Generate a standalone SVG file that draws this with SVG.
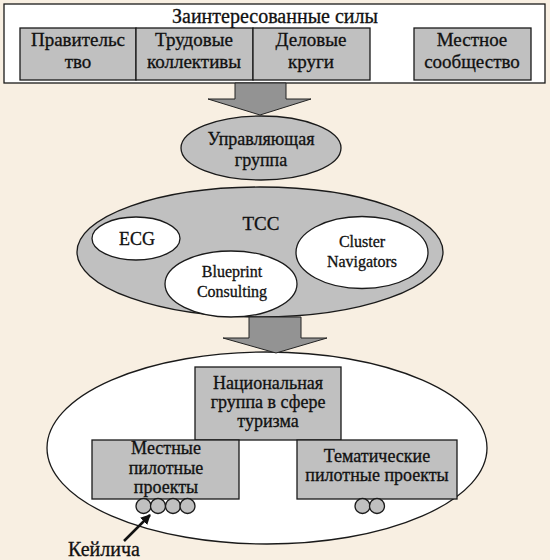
<svg xmlns="http://www.w3.org/2000/svg" width="550" height="560" viewBox="0 0 550 560">
<style>
text{font-family:"Liberation Serif","Times New Roman",serif;font-size:18px;fill:#111;text-anchor:middle;stroke:#111;stroke-width:0.3}
.t19{font-size:19px}
.en{font-size:16px}
.g{fill:#c0c0c0;stroke:#1a1a1a;stroke-width:1.3}
.w{fill:#fff;stroke:#1a1a1a;stroke-width:1.3}
.arr{fill:#939393;stroke:#222;stroke-width:1}
</style>
<defs>
<marker id="ah" viewBox="0 0 10 10" refX="9" refY="5" markerWidth="4" markerHeight="4" orient="auto"><path d="M0,0L10,5L0,10z" fill="#111"/></marker>
</defs>
<rect width="550" height="560" fill="#f8efe2"/>
<g id="stakeholders">
<rect x="4" y="4" width="541" height="79" class="w"/>
<text x="275" y="23" style="font-size:20px">Заинтересованные силы</text>
</g>
<g id="gov"><rect x="20" y="28" width="116" height="52" class="g"/><text class="t19" x="78" y="46">Правительс</text><text class="t19" x="78" y="68">тво</text></g>
<g id="labor"><rect x="136" y="28" width="117" height="52" class="g"/><text class="t19" x="194" y="46">Трудовые</text><text class="t19" x="194" y="68">коллективы</text></g>
<g id="business"><rect x="253" y="28" width="117" height="52" class="g"/><text class="t19" x="311" y="46">Деловые</text><text class="t19" x="311" y="68">круги</text></g>
<g id="community"><rect x="414" y="28" width="117" height="52" class="g"/><text class="t19" x="472" y="46">Местное</text><text class="t19" x="472" y="68">сообщество</text></g>
<g id="steering"><ellipse cx="261" cy="148" rx="80" ry="32" class="g"/><text x="261" y="145">Управляющая</text><text x="261" y="166">группа</text></g>
<g id="tcc"><ellipse cx="260" cy="252" rx="183" ry="65" class="g"/><text x="261" y="230" style="font-size:19px">TCC</text></g>
<g id="ecg"><ellipse cx="136" cy="238.5" rx="44" ry="21.5" class="w"/><text x="137" y="245">ECG</text></g>
<g id="blueprint"><ellipse cx="231" cy="284" rx="66" ry="33" class="w"/><text class="en" x="232" y="277">Blueprint</text><text class="en" x="232" y="297">Consulting</text></g>
<g id="cluster"><ellipse cx="362" cy="252.5" rx="66" ry="36" class="w"/><text class="en" x="362" y="247">Cluster</text><text class="en" x="362" y="267">Navigators</text></g>
<g id="bottom"><ellipse cx="267" cy="448" rx="220" ry="96" class="w"/></g>
<g id="national"><rect x="195" y="367" width="146" height="73" class="g"/><text x="268" y="389">Национальная</text><text x="268" y="408">группа в сфере</text><text x="268" y="427">туризма</text></g>
<g id="local"><rect x="92" y="440" width="147" height="59" class="g"/><text x="166" y="454">Местные</text><text x="166" y="474">пилотные</text><text x="166" y="493">проекты</text></g>
<g id="thematic"><rect x="297" y="440" width="160" height="59" class="g"/><text x="377" y="462">Тематические</text><text x="377" y="481">пилотные проекты</text></g>
<g id="clusters-local">
<circle cx="143.5" cy="506" r="7.5" class="g"/><circle cx="158" cy="506" r="7.5" class="g"/><circle cx="173" cy="506" r="7.5" class="g"/><circle cx="187.5" cy="506" r="7.5" class="g"/>
</g>
<g id="clusters-thematic"><circle cx="362.5" cy="506" r="7.5" class="g"/><circle cx="377" cy="506" r="7.5" class="g"/></g>
<g id="label"><text x="104" y="556" style="font-size:20px">Кейлича</text></g>
<g id="connectors">
<path class="arr" d="M235,83H286V99H311L260,115L208,99H235Z"/>
<path class="arr" d="M249,317H301V338H327L276,353L223,338H249Z"/>
<line x1="124" y1="541" x2="150" y2="515" stroke="#111" stroke-width="2.5" marker-end="url(#ah)"/>
</g>
</svg>
